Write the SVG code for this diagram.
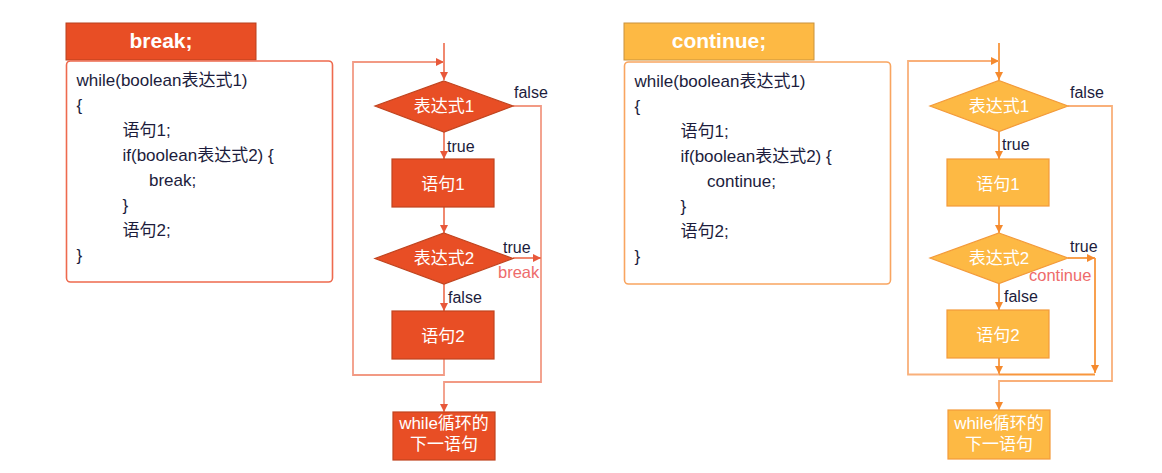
<svg xmlns="http://www.w3.org/2000/svg" width="1162" height="473" viewBox="0 0 1162 473">
<defs>
<linearGradient id="divg" x1="0" y1="0" x2="0" y2="1">
<stop offset="0" stop-color="#888" stop-opacity="0"/>
<stop offset="0.35" stop-color="#555" stop-opacity="1"/>
<stop offset="0.65" stop-color="#555" stop-opacity="1"/>
<stop offset="1" stop-color="#888" stop-opacity="0"/>
</linearGradient>
<marker id="arrR" viewBox="0 0 10 10" refX="10" refY="5" markerWidth="8" markerHeight="8" markerUnits="userSpaceOnUse" orient="auto">
<path d="M0,0 L10,5 L0,10 z" fill="#E8583A"/>
</marker>
<marker id="arrO" viewBox="0 0 10 10" refX="10" refY="5" markerWidth="8" markerHeight="8" markerUnits="userSpaceOnUse" orient="auto">
<path d="M0,0 L10,5 L0,10 z" fill="#F58A2E"/>
</marker>
<style>
text { font-family: "Liberation Sans", "Noto Sans CJK SC", sans-serif; }
.title { font-size: 21px; font-weight: bold; fill: #fff; text-anchor: middle; }
.code { font-size: 17px; fill: #1C1C3C; }
.node { font-size: 17px; fill: #fff; text-anchor: middle; }
.lbl { font-size: 16px; fill: #1C1C3C; }
.hl { font-size: 16.5px; fill: #EE6B6B; }
.rfill { fill: #E84E25; stroke: #C0441F; stroke-width: 1.2; }
.ofill { fill: #FDB944; stroke: #F39A3A; stroke-width: 1.2; }
.rline { fill: none; stroke: #EF7C60; stroke-width: 1.8; }
.rline2 { fill: none; stroke: #F29A84; stroke-width: 1.8; }
.oline { fill: none; stroke: #F8963C; stroke-width: 1.8; }
.oline2 { fill: none; stroke: #F9B07A; stroke-width: 1.8; }
</style>
</defs>
<rect width="1162" height="473" fill="#fff"/>
<line x1="583.5" y1="24" x2="583.5" y2="472" stroke="url(#divg)" stroke-width="1"/>

<!-- LEFT: break -->
<g id="break-title">
<rect x="66" y="23" width="190" height="37" fill="#E84E25" stroke="#B8401F" stroke-width="1"/>
<text class="title" x="161" y="48">break;</text>
</g>
<g id="break-code">
<rect x="66.5" y="61" width="266" height="221" rx="4" fill="#fff" stroke="#EE6A4E" stroke-width="1.6"/>
<text class="code" x="76.5" y="86">while(boolean表达式1)</text>
<text class="code" x="76.5" y="111">{</text>
<text class="code" x="122.5" y="136">语句1;</text>
<text class="code" x="122.5" y="161">if(boolean表达式2) {</text>
<text class="code" x="149" y="186">break;</text>
<text class="code" x="122.5" y="211">}</text>
<text class="code" x="122.5" y="236">语句2;</text>
<text class="code" x="76.5" y="261">}</text>
</g>

<g id="break-connectors">
<path class="rline" d="M444,43 V80" marker-end="url(#arrR)"/>
<path class="rline2" d="M444,359 V375 H353 V62 H444" marker-end="url(#arrR)"/>
<path class="rline" d="M444,132 V159" marker-end="url(#arrR)"/>
<path class="rline" d="M444,207 V233" marker-end="url(#arrR)"/>
<path class="rline" d="M444,284 V311" marker-end="url(#arrR)"/>
<path class="rline2" d="M513,106 H541 V382 H444 V412" marker-end="url(#arrR)"/>
<path class="rline" d="M513,258 H541" marker-end="url(#arrR)"/>
<text class="lbl" x="514" y="98">false</text>
<text class="lbl" x="447" y="152">true</text>
<text class="lbl" x="503" y="253">true</text>
<text class="hl" x="498" y="278">break</text>
<text class="lbl" x="448" y="303">false</text>
</g>
<g id="break-cond1">
<polygon class="rfill" points="444,81 513,106 444,132 375,106"/>
<text class="node" x="444" y="111.5">表达式1</text>
</g>
<g id="break-stmt1">
<rect class="rfill" x="392" y="159" width="102" height="48"/>
<text class="node" x="443" y="190">语句1</text>
</g>
<g id="break-cond2">
<polygon class="rfill" points="444,233 513,258.5 444,284 375,258.5"/>
<text class="node" x="444" y="264">表达式2</text>
</g>
<g id="break-stmt2">
<rect class="rfill" x="392" y="311" width="102" height="48"/>
<text class="node" x="443" y="341.5">语句2</text>
</g>
<g id="break-next">
<rect class="rfill" x="393" y="412" width="102" height="48"/>
<text class="node" x="444" y="429">while循环的</text>
<text class="node" x="444" y="450">下一语句</text>
</g>

<!-- RIGHT: continue -->
<g id="continue-title">
<rect x="624" y="23" width="190" height="37" fill="#FDB944" stroke="#C9923C" stroke-width="1"/>
<text class="title" x="719" y="48">continue;</text>
</g>
<g id="continue-code">
<rect x="624.5" y="62" width="266" height="222" rx="4" fill="#fff" stroke="#F9A560" stroke-width="1.6"/>
<text class="code" x="634.5" y="86.5">while(boolean表达式1)</text>
<text class="code" x="634.5" y="111.5">{</text>
<text class="code" x="680.5" y="136.5">语句1;</text>
<text class="code" x="680.5" y="161.5">if(boolean表达式2) {</text>
<text class="code" x="707" y="186.5">continue;</text>
<text class="code" x="680.5" y="211.5">}</text>
<text class="code" x="680.5" y="236.5">语句2;</text>
<text class="code" x="634.5" y="261.5">}</text>
</g>

<g id="continue-connectors">
<path class="oline" d="M999,43 V80" marker-end="url(#arrO)"/>
<path class="oline" d="M999,132 V159" marker-end="url(#arrO)"/>
<path class="oline" d="M999,206 V233" marker-end="url(#arrO)"/>
<path class="oline" d="M999,283 V310" marker-end="url(#arrO)"/>
<path class="oline" d="M999,358 V374" marker-end="url(#arrO)"/>
<path class="oline" d="M1068,258 H1095" marker-end="url(#arrO)"/>
<path class="oline" d="M1095,258 V373" marker-end="url(#arrO)"/>
<path class="oline" d="M1095,374.5 H999"/>
<path class="oline2" d="M999,374.5 H908 V61 H999" marker-end="url(#arrO)"/>
<path class="oline2" d="M1068,106 H1112 V381 H999 V410" marker-end="url(#arrO)"/>
<text class="lbl" x="1070" y="98">false</text>
<text class="lbl" x="1002" y="150">true</text>
<text class="lbl" x="1070" y="252">true</text>
<text class="hl" x="1029" y="281">continue</text>
<text class="lbl" x="1004" y="302">false</text>
</g>
<g id="continue-cond1">
<polygon class="ofill" points="999,80.5 1068,106 999,131.5 930,106"/>
<text class="node" x="999" y="111.5">表达式1</text>
</g>
<g id="continue-stmt1">
<rect class="ofill" x="947" y="159" width="102" height="47"/>
<text class="node" x="998" y="189.5">语句1</text>
</g>
<g id="continue-cond2">
<polygon class="ofill" points="999,233 1068,258 999,283.5 930,258"/>
<text class="node" x="999" y="264">表达式2</text>
</g>
<g id="continue-stmt2">
<rect class="ofill" x="947" y="310" width="102" height="48"/>
<text class="node" x="998" y="341">语句2</text>
</g>
<g id="continue-next">
<rect class="ofill" x="948" y="410" width="102" height="49"/>
<text class="node" x="999" y="428.5">while循环的</text>
<text class="node" x="999" y="450">下一语句</text>
</g>
</svg>
